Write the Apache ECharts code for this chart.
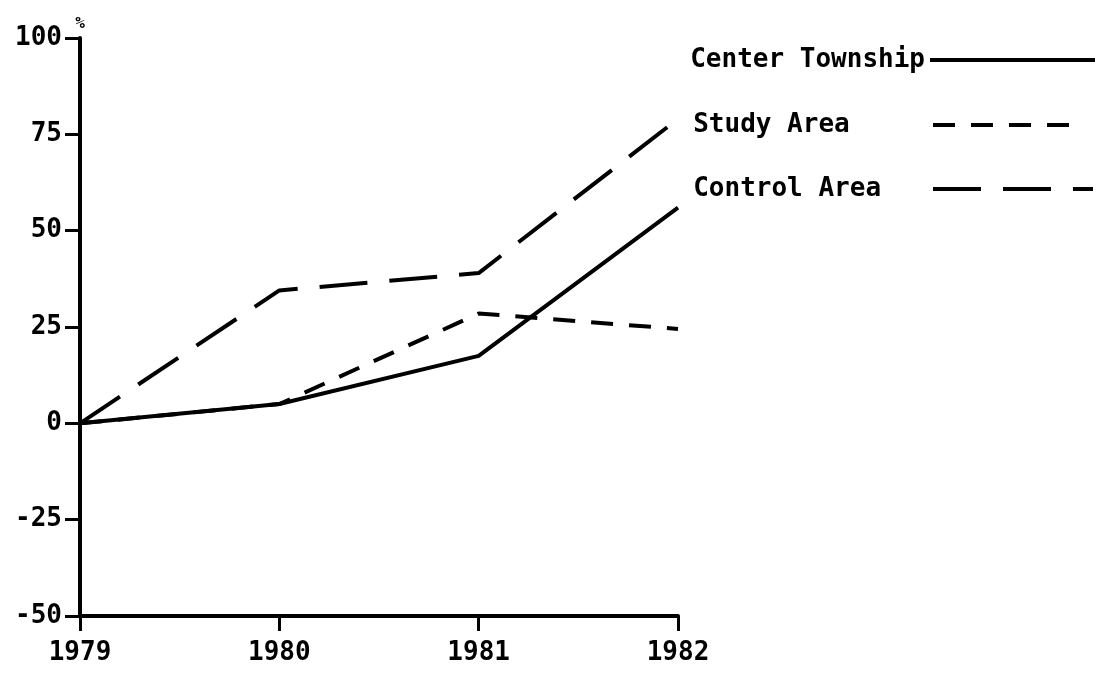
<!DOCTYPE html>
<html>
<head>
<meta charset="utf-8">
<script src="https://cdn.jsdelivr.net/npm/echarts@6/dist/echarts.min.js"></script>
<style>html,body{margin:0;padding:0;background:#fff}#c{width:1110px;height:679px}</style>
</head>
<body>
<div id="c"></div>
<script>
var years = ['1979', '1980', '1981', '1982'];
var yTicks = [-50, -25, 0, 25, 50, 75, 100];
var centerTownship = [0, 5, 17.5, 56];
var studyArea = [0, 5, 28.5, 24.5];
var controlArea = [0, 34.5, 39, 79];
var seriesNames = ['Center Township', 'Study Area', 'Control Area'];

var FONT = 'DejaVu Sans Mono';
function pad(s) { while (s.length < 15) s += '\u00a0'; return s; }

var chart = echarts.init(document.getElementById('c'));
function legendFor(name, top, right, w) {
  return {
    data: [name], orient: 'horizontal', top: top, right: right, align: 'right',
    padding: 0, itemWidth: w, itemHeight: 14, selectedMode: false,
    itemStyle: { opacity: 0 },
    lineStyle: { width: 4, color: '#000' },
    formatter: function (n) { return pad(n); },
    textStyle: { fontFamily: FONT, fontSize: 26, fontWeight: 'bold', color: '#000' }
  };
}
chart.setOption({
  animation: false,
  backgroundColor: '#fff',
  grid: { left: 80, right: 432, top: 38, bottom: 63 },
  legend: [
    legendFor(seriesNames[0], 47, 13, 165),
    legendFor(seriesNames[1], 112, 30, 145),
    legendFor(seriesNames[2], 176, 15, 160)
  ],
  xAxis: {
    type: 'category', data: years, boundaryGap: false,
    axisLine: { onZero: false, lineStyle: { color: '#000', width: 4 } },
    axisTick: { length: 15, lineStyle: { color: '#000', width: 3 } },
    axisLabel: { margin: 24, color: '#000', fontFamily: FONT, fontSize: 26, fontWeight: 'bold' },
    splitLine: { show: false }
  },
  yAxis: {
    type: 'value', min: yTicks[0], max: yTicks[yTicks.length - 1], interval: 25,
    name: '%', nameGap: 6,
    nameTextStyle: { color: '#000', fontFamily: FONT, fontSize: 16, fontWeight: 'bold', align: 'center' },
    axisLine: { show: true, lineStyle: { color: '#000', width: 4 } },
    axisTick: { show: true, length: 15, lineStyle: { color: '#000', width: 3 } },
    axisLabel: { margin: 18, color: '#000', fontFamily: FONT, fontSize: 26, fontWeight: 'bold' },
    splitLine: { show: false }
  },
  series: [
    { name: seriesNames[0], type: 'line', data: centerTownship, symbol: 'none',
      itemStyle: { color: '#000' },
      lineStyle: { color: '#000', width: 4, type: 'solid' } },
    { name: seriesNames[1], type: 'line', data: studyArea, symbol: 'none',
      itemStyle: { color: '#000' },
      lineStyle: { color: '#000', width: 4, type: [22, 16] } },
    { name: seriesNames[2], type: 'line', data: controlArea, symbol: 'none',
      itemStyle: { color: '#000' },
      lineStyle: { color: '#000', width: 4, type: [48, 22] } }
  ]
});
</script>
</body>
</html>
